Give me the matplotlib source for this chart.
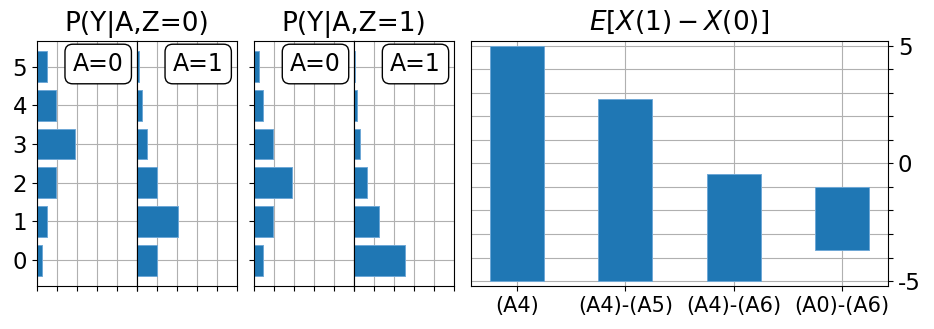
import numpy as np
import matplotlib
matplotlib.use("Agg")
import matplotlib.pyplot as plt

# outcome values Y and P(Y | A, Z)
y_vals = [0, 1, 2, 3, 4, 5]
p_z0_a0 = [0.05, 0.10, 0.19, 0.38, 0.19, 0.10]
p_z0_a1 = [0.20, 0.41, 0.20, 0.10, 0.05, 0.027]
p_z1_a0 = [0.093, 0.19, 0.38, 0.19, 0.093, 0.047]
p_z1_a1 = [0.507, 0.253, 0.127, 0.06, 0.03, 0.013]

# effect estimates E[X(1) - X(0)] (bar spans)
effect_labels = ["(A4)", "(A4)-(A5)", "(A4)-(A6)", "(A0)-(A6)"]
effect_low = [-5.0, -5.0, -5.0, -3.69]
effect_high = [5.0, 2.72, -0.44, -1.02]

W, H = 934, 329
fig = plt.figure(figsize=(W / 100, H / 100), dpi=100)

bot = (H - 286) / H
hgt = 245.3 / H
bar_kw = dict(color="#1f77b4", edgecolor="#6fa8d6", linewidth=0.7)


def px_axes(x0, w):
    return fig.add_axes([x0 / W, bot, w / W, hgt])


def hist_panel(ax, probs, label, yticks, ylabels):
    ax.set_axisbelow(True)
    ax.barh(y_vals, probs, height=0.8, **bar_kw)
    ax.set_xlim(0, 1)
    ax.set_ylim(-0.67, 5.67)
    ax.set_xticks(np.arange(0, 1.01, 0.2))
    ax.set_xticklabels([])
    ax.set_yticks(y_vals)
    ax.grid(True)
    if ylabels:
        ax.set_yticklabels([str(v) for v in y_vals], fontsize=16.5)
    else:
        ax.set_yticklabels([])
    if not yticks:
        ax.tick_params(axis="y", left=False)
    ax.text(0.615, 0.905, label, transform=ax.transAxes, ha="center",
            va="center", fontsize=17,
            bbox=dict(boxstyle="round,pad=0.33", facecolor="white",
                      edgecolor="black", linewidth=1.0))


ax1 = px_axes(36.7, 100)
ax2 = px_axes(136.7, 100)
ax3 = px_axes(254, 100)
ax4 = px_axes(354, 100)

hist_panel(ax1, p_z0_a0, "A=0", True, True)
hist_panel(ax2, p_z0_a1, "A=1", False, False)
hist_panel(ax3, p_z1_a0, "A=0", True, False)
hist_panel(ax4, p_z1_a1, "A=1", False, False)

fig.text(136.7 / W, (H - 31) / H, "P(Y|A,Z=0)", ha="center", va="baseline",
         fontsize=19)
fig.text(354 / W, (H - 31) / H, "P(Y|A,Z=1)", ha="center", va="baseline",
         fontsize=19)

# right panel: effect bars
ax5 = px_axes(471, 417)
ax5.set_axisbelow(True)
xpos = np.arange(len(effect_labels))
heights = [h - l for h, l in zip(effect_high, effect_low)]
ax5.bar(xpos, heights, bottom=effect_low, width=0.5, **bar_kw)
ax5.set_xlim(-0.425, 3.425)
ax5.set_ylim(-5.21, 5.21)
ax5.set_xticks(xpos)
ax5.set_xticklabels(effect_labels, fontsize=15)
ax5.yaxis.tick_right()
ax5.set_yticks(range(-5, 6))
ax5.set_yticklabels(["-5" if v == -5 else ("0" if v == 0 else ("5" if v == 5 else ""))
                     for v in range(-5, 6)], fontsize=16.5)
ax5.grid(True)
ax5.set_title(r"$E[X(1) - X(0)]$", fontsize=19, pad=7.5)

fig.savefig("out.png", dpi=100)
